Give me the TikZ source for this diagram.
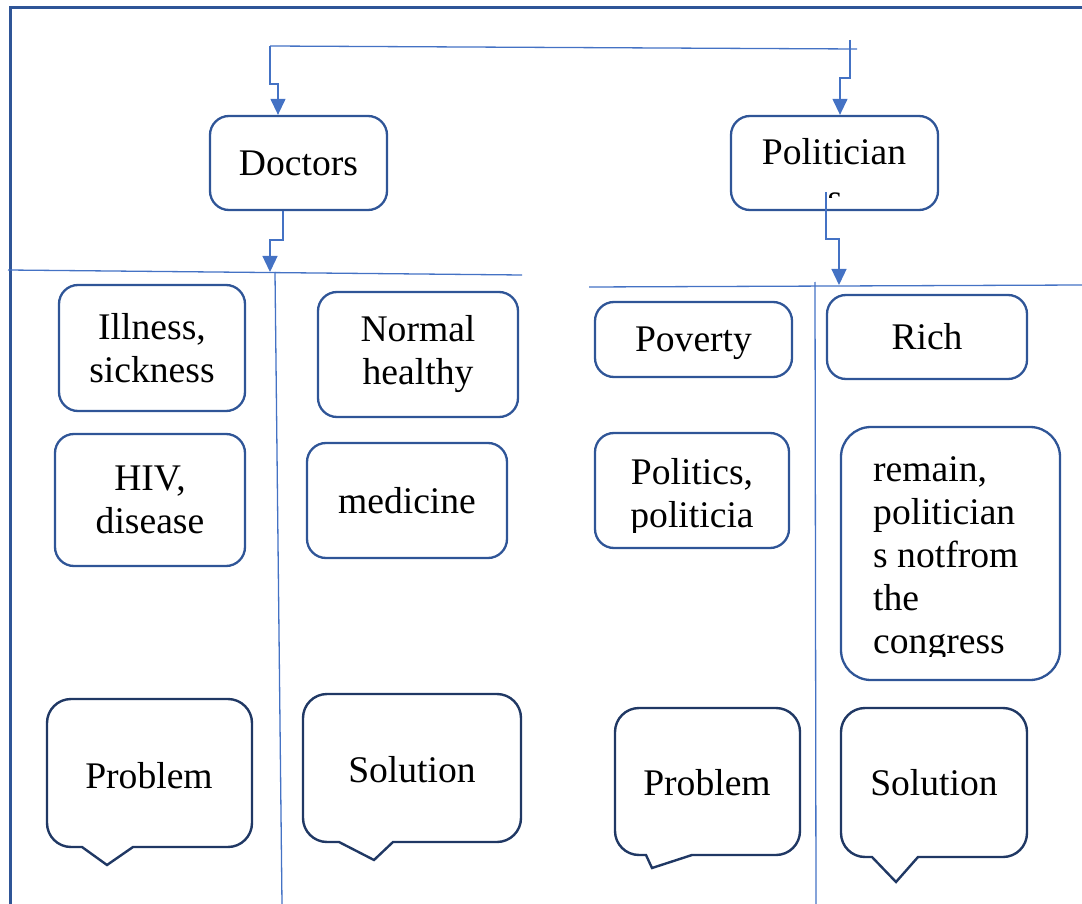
\documentclass[tikz,border=0pt]{standalone}
\usepackage{fontspec}
\setmainfont{Liberation Serif}
\usetikzlibrary{arrows.meta}
\definecolor{frameblue}{HTML}{2F5597}
\definecolor{boxblue}{HTML}{2F5597}
\definecolor{navy}{HTML}{203864}
\definecolor{linkblue}{HTML}{4472C4}
\tikzset{
  x=1pt, y=1pt,
  txt/.style={font=\fontsize{37.6}{43}\selectfont, inner sep=0pt},
  card/.style={txt, draw=boxblue, line width=2.3pt, rounded corners=19pt, align=center},
  conn/.style={draw=linkblue, line width=1.3pt},
  arr/.style={conn, -{Triangle[width=15pt,length=16pt]}},
  frame/.style={draw=frameblue, line width=3pt},
  bubbleline/.style={draw=navy, line width=2.4pt},
}
% speech bubble outline: left, top, right, bottom, tail start, tip x, tip y, tail end
\newcommand{\speechframe}[8]{%
  \draw[bubbleline] (#1+24,-#2) -- (#3-24,-#2)
    arc[start angle=90,end angle=0,radius=24] -- (#3,-#4+24)
    arc[start angle=0,end angle=-90,radius=24] -- (#8,-#4) -- (#6,-#7) -- (#5,-#4)
    -- (#1+24,-#4) arc[start angle=270,end angle=180,radius=24] -- (#1,-#2-24)
    arc[start angle=180,end angle=90,radius=24] -- cycle;}
\begin{document}
\begin{tikzpicture}
\useasboundingbox (0,0) rectangle (1082,-904);

% page frame
\draw[frame] (10,-904) -- (10,-8) -- (1082,-8);

% top level cards
\node[card, minimum width=177pt, minimum height=94pt] (doc) at (298.5,-163) {Doctors};
\node[card, minimum width=207pt, minimum height=94pt] (pol) at (834.5,-163) {};
\node[txt, anchor=base] (poltxt) at (834,-165) {Politician};
\begin{scope}
  \clip (733,-118) rectangle (936,-198);
  \node[txt, anchor=base] (polrest) at (835,-211) {s};
\end{scope}

% connectors from the top bracket
\coordinate (topL) at (270,-46);
\coordinate (topR) at (857,-49);
\coordinate (topRv) at (850,-40);
\coordinate (j1) at (270,-84);
\coordinate (j2) at (278,-84);
\coordinate (k1) at (850,-78);
\coordinate (k2) at (840,-78);
\draw[conn] (topL) -- (topR);
\draw[arr] (topL) -- (j1) -- (j2) -- (j2 |- doc.north);
\draw[arr] (topRv) -- (k1) -- (k2) -- (k2 |- pol.north);

% column dividers
\coordinate (hL1) at (8,-270);
\coordinate (hL2) at (522,-275);
\coordinate (vL1) at (275,-272);
\coordinate (vL2) at (282,-904);
\coordinate (hR1) at (589,-287);
\coordinate (hR2) at (1082,-285);
\coordinate (vR1) at (815,-282);
\coordinate (vR2) at (816,-904);
\draw[conn] (hL1) -- (hL2);
\draw[conn] (vL1) -- (vL2);
\draw[conn] (hR1) -- (hR2);
\draw[conn] (vR1) -- (vR2);

% connectors down to the dividers
\coordinate (d1) at (283,-240);
\coordinate (d2) at (270,-240);
\coordinate (d3) at (270,-272);
\draw[arr] (d1 |- doc.south) -- (d1) -- (d2) -- (d3);
\coordinate (p0) at (826,-192);
\coordinate (p1) at (826,-239);
\coordinate (p2) at (839,-239);
\coordinate (p3) at (839,-285);
\draw[arr] (p0) -- (p1) -- (p2) -- (p3);

% doctors column
\node[card, minimum width=186pt, minimum height=126pt] (ill) at (152,-348) {Illness,\\sickness};
\node[card, minimum width=200pt, minimum height=125pt] (norm) at (418,-354.5) {Normal\\healthy};
\node[card, minimum width=190pt, minimum height=132pt] (hiv) at (150,-500) {HIV,\\disease};
\node[card, minimum width=200pt, minimum height=115pt] (med) at (407,-500.5) {medicine};

% politicians column
\node[card, minimum width=197pt, minimum height=75pt, text depth=0pt] (pov) at (693.5,-339.5) {Poverty};
\node[card, minimum width=200pt, minimum height=84pt] (rich) at (927,-337) {Rich};
\node[card, minimum width=194pt, minimum height=115pt] (polit) at (692,-490.5) {};
\begin{scope}
  \clip (597,-435) rectangle (787,-532);
  \node[txt, anchor=base, align=center] (polittxt) at (692,-527) {Politics,\\politicia};
\end{scope}
\node[card, rounded corners=30pt, minimum width=219pt, minimum height=253pt] (rem) at (950.5,-553.5) {};
\begin{scope}
  \clip (843,-429) rectangle (1058,-656);
  \node[txt, anchor=base west, align=left] (remtxt) at (873,-653)
    {remain,\\politician\\s notfrom\\the\\congress};
\end{scope}

% speech bubbles
\speechframe{47}{699}{252}{847}{82}{107}{865}{133}
\node[txt, anchor=base] (probL) at (149,-788) {Problem};
\speechframe{303}{694}{521}{842}{339}{374}{860}{393}
\node[txt, anchor=base] (solL) at (412,-782) {Solution};
\speechframe{615}{708}{800}{855}{646}{652}{868}{692}
\node[txt, anchor=base] (probR) at (707,-795) {Problem};
\speechframe{841}{708}{1027}{857}{872}{896}{882}{918}
\node[txt, anchor=base] (solR) at (934,-795) {Solution};
\end{tikzpicture}
\end{document}
